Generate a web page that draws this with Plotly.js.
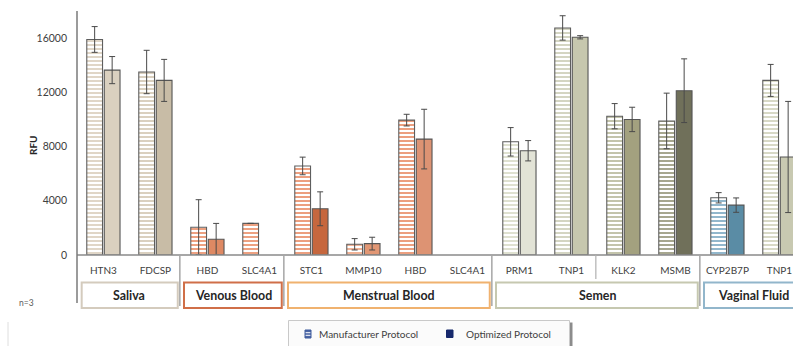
<!DOCTYPE html>
<html>
<head>
<meta charset="utf-8">
<script src="https://cdn.plot.ly/plotly-3.0.1.min.js"></script>
<style>
  html, body { margin: 0; padding: 0; background: #ffffff; }
  #chart { width: 793px; height: 346px; }
</style>
</head>
<body>
<div id="chart"></div>
<script>
// Gene markers on the x axis (one slot per marker)
const genes = ['HTN3', 'FDCSP', 'HBD', 'SLC4A1', 'STC1', 'MMP10', 'HBD', 'SLC4A1',
               'PRM1', 'TNP1', 'KLK2', 'MSMB', 'CYP2B7P', 'TNP1'];

// Body fluid groups: first and last marker slot of each
const groups     = ['Saliva', 'Venous Blood', 'Menstrual Blood', 'Semen', 'Vaginal Fluid'];
const groupFirst = [0, 2, 4, 8, 12];
const groupLast  = [1, 3, 7, 11, 13];

// Mean RFU (n=3) and error per protocol
const manufacturerRFU = [15900, 13500, 2050, 2330, 6570, 790, 9950, null, 8350, 16750, 10240, 9890, 4220, 12880];
const manufacturerErr = [950, 1600, 2030, null, 650, 420, 430, null, 1050, 900, 930, 2050, 380, 1180];
const optimizedRFU    = [13640, 12880, 1160, null, 3410, 840, 8550, null, 7690, 16060, 10000, 12120, 3680, 7230];
const optimizedErr    = [1000, 1550, 1170, null, 1250, 470, 2200, null, 750, 120, 900, 2350, 530, 4100];

const yTicks = [0, 4000, 8000, 12000, 16000];

// Colours
const manufacturerColors = ['#ddd2c1', '#d6cbb8', '#eb9673', '#eb9673', '#ea9470', '#efab8b', '#ea9470', '#ea9470',
                            '#dcdecb', '#cfd1bb', '#bcbda2', '#9d9d82', '#86afc6', '#d4d5c0'];
const optimizedColors    = ['#dad0bf', '#c8bca6', '#de8963', '#de8963', '#c6673e', '#e29774', '#dd9373', '#dd9373',
                            '#e2e3d6', '#c6c7ae', '#a3a17f', '#70705a', '#5a8ca5', '#c8c9b1'];
const groupBorders = ['#d4cbbd', '#d06f48', '#f0b26f', '#c6c8b0', '#92b6cb'];

// Plot frame in pixels
const W = 793, H = 346;
const L = 77, T = 11, Bpx = 255;           // left edge, top edge, baseline
const plotW = W - L, plotH = Bpx - T;
const slotPx = 52, firstCenterPx = 103.4;
const xMin = -(firstCenterPx - L) / slotPx;
const xMax = xMin + plotW / slotPx;

const px = x => (x - L) / plotW;           // pixel x -> paper x
const py = y => (Bpx - y) / plotH;         // pixel y -> paper y

const slots = genes.map((g, i) => i);
const font = 'Lato, "Open Sans", Arial, sans-serif';
const textGrey = '#404040';

const errStyle = { type: 'data', visible: true, color: '#4a4a4a', thickness: 1, width: 3 };

const traces = [
  {
    type: 'bar', name: 'Manufacturer Protocol', x: slots, y: manufacturerRFU,
    marker: {
      color: manufacturerColors,
      line: { color: '#5e5e5e', width: 1.1 },
      pattern: { shape: '-', size: 4, solidity: 0.45, bgcolor: '#ffffff', fillmode: 'replace' }
    },
    error_y: Object.assign({ array: manufacturerErr }, errStyle),
    showlegend: false, hoverinfo: 'skip'
  },
  {
    type: 'bar', name: 'Optimized Protocol', x: slots, y: optimizedRFU,
    marker: { color: optimizedColors, line: { color: '#555555', width: 1.1 } },
    error_y: Object.assign({ array: optimizedErr }, errStyle),
    showlegend: false, hoverinfo: 'skip'
  }
];

const shapes = [];
const annotations = [];
const label = (x, y, text, size, color, extra) => Object.assign({
  xref: 'paper', yref: 'paper', x: x, y: y, text: text, showarrow: false,
  xanchor: 'center', yanchor: 'middle', font: { family: font, size: size, color: color }
}, extra || {});

// x axis line and the y axis line running down past the baseline
shapes.push({ type: 'line', xref: 'paper', yref: 'paper', x0: 0, x1: 1, y0: 0, y1: 0,
              line: { color: '#8a8a8a', width: 1.5 } });
shapes.push({ type: 'line', xref: 'paper', yref: 'paper', x0: 0, x1: 0, y0: 1, y1: py(303),
              line: { color: '#7a7a7a', width: 1.5 } });

// separators between groups, and the short one inside Semen
groupLast.slice(0, -1).forEach(last => {
  shapes.push({ type: 'line', xref: 'x', yref: 'paper', x0: last + 0.47, x1: last + 0.47,
                y0: 0, y1: py(306), line: { color: '#a6a6a6', width: 1.5 } });
});
shapes.push({ type: 'line', xref: 'x', yref: 'paper', x0: 9.47, x1: 9.47,
              y0: 0, y1: py(279), line: { color: '#b0b0b0', width: 1.2 } });

// group boxes with labels
groups.forEach((g, k) => {
  const x0 = Math.max(groupFirst[k] - 0.45, xMin + 0.09);
  const x1 = groupLast[k] + 0.43;
  shapes.push({ type: 'rect', xref: 'x', yref: 'paper', x0: x0, x1: x1,
                y0: py(308), y1: py(282.5), line: { color: groupBorders[k], width: 2 },
                fillcolor: '#ffffff' });
  annotations.push(label((groupFirst[k] + groupLast[k]) / 2, py(295.5), '<b>' + g + '</b>',
                         12.4, '#262626', { xref: 'x' }));
});

// y axis title and sample size note
annotations.push(label(px(33), py(145), '<b>RFU</b>', 10, '#262626', { textangle: -90 }));
annotations.push(label(px(26.5), py(302.5), 'n=3', 8.5, '#595959'));

// legend frame with drop shadow on the right
shapes.push({ type: 'rect', xref: 'paper', yref: 'paper', x0: px(569), x1: px(572.5),
              y0: py(350), y1: py(322.5), line: { width: 0 }, fillcolor: '#8c8c8c' });
shapes.push({ type: 'rect', xref: 'paper', yref: 'paper', x0: px(288.5), x1: px(569.5),
              y0: py(350), y1: py(320.5), line: { color: '#c9c9c9', width: 1 }, fillcolor: '#fbfbfb' });
// legend key: striped manufacturer symbol
shapes.push({ type: 'rect', xref: 'paper', yref: 'paper', x0: px(305), x1: px(311),
              y0: py(338), y1: py(330), line: { color: '#3d5a9c', width: 1 }, fillcolor: '#4d67a6' });
[332.7, 335.3].forEach(yy => {
  shapes.push({ type: 'line', xref: 'paper', yref: 'paper', x0: px(305.6), x1: px(310.4),
                y0: py(yy), y1: py(yy), line: { color: '#ffffff', width: 1 } });
});
// legend key: solid optimized symbol
shapes.push({ type: 'rect', xref: 'paper', yref: 'paper', x0: px(446.5), x1: px(453),
              y0: py(337.5), y1: py(330), line: { color: '#15286b', width: 1 }, fillcolor: '#17296d' });
annotations.push(label(px(317), py(334), 'Manufacturer Protocol', 10, textGrey, { xanchor: 'left' }));
annotations.push(label(px(463.5), py(334), 'Optimized Protocol', 10, textGrey, { xanchor: 'left' }));

// faint frame edge at the lower left
shapes.push({ type: 'line', xref: 'paper', yref: 'paper', x0: px(8), x1: px(8),
              y0: py(346), y1: py(322), line: { color: '#dedede', width: 1 } });

const layout = {
  width: W, height: H,
  margin: { l: L, r: 0, t: T, b: H - Bpx, pad: 0, autoexpand: false },
  paper_bgcolor: '#ffffff', plot_bgcolor: '#ffffff',
  barmode: 'group', bargap: 0.327, bargroupgap: 0.1,
  showlegend: false,
  font: { family: font, color: textGrey },
  xaxis: {
    range: [xMin, xMax], tickvals: slots, ticktext: genes,
    showgrid: false, zeroline: false, showline: false, ticks: '',
    ticklabelstandoff: 8,
    tickfont: { family: font, size: 10, color: textGrey }
  },
  yaxis: {
    range: [0, 18000], tickvals: yTicks, ticktext: yTicks.map(String),
    showgrid: false, zeroline: false, showline: false, ticks: '',
    ticklabelstandoff: 9,
    tickfont: { family: font, size: 10.5, color: textGrey }
  },
  shapes: shapes,
  annotations: annotations
};

Plotly.newPlot('chart', traces, layout, { staticPlot: true, displayModeBar: false });
</script>
</body>
</html>
